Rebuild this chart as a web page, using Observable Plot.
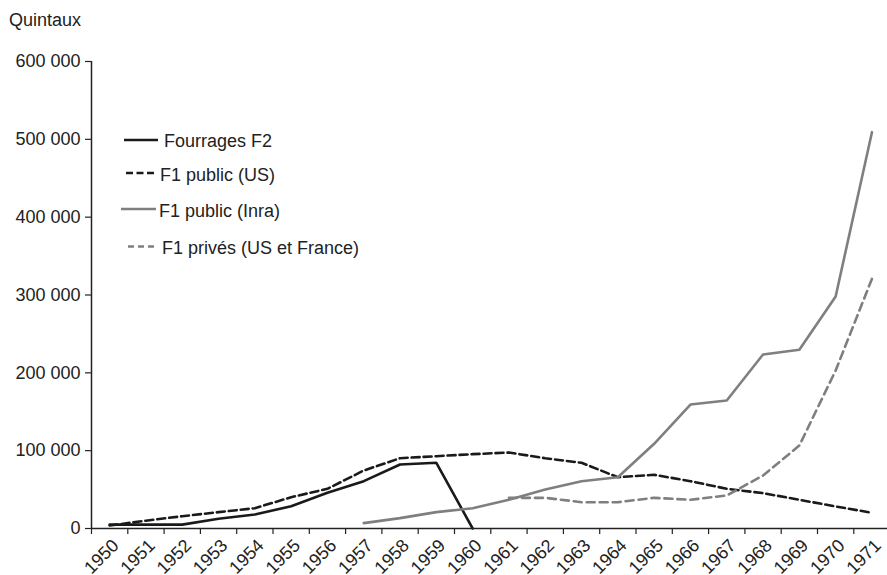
<!DOCTYPE html>
<html>
<head>
<meta charset="utf-8">
<script src="https://cdn.jsdelivr.net/npm/d3@7"></script>
<script src="https://cdn.jsdelivr.net/npm/@observablehq/plot@0.6"></script>
<style>
  body { margin: 0; background: #fff; font-family: "Liberation Sans", Arial, sans-serif; }
  #wrap { position: relative; width: 887px; height: 575px; overflow: hidden; }
  #overlay { position: absolute; left: 0; top: 0; pointer-events: none; }
  #overlay text { font-family: "Liberation Sans", Arial, sans-serif; font-size: 18px; fill: #222; }
</style>
</head>
<body>
<div id="wrap"></div>
<script>
const years = d3.range(1950, 1972);
const yTicks = [0, 100000, 200000, 300000, 400000, 500000, 600000];

const fourragesYears = [1950,1951,1952,1953,1954,1955,1956,1957,1958,1959,1960];
const fourragesValues = [5000,5000,5000,12500,18000,28600,45900,60800,82200,84400,0];

const publicUSYears = years;
const publicUSValues = [3800,10000,15800,21000,26100,40200,51000,74500,90300,92900,95500,97600,90300,84400,65900,69000,60800,51000,45400,36900,28300,20200];

const inraYears = [1957,1958,1959,1960,1961,1962,1963,1964,1965,1966,1967,1968,1969,1970,1971];
const inraValues = [6900,13300,21000,26100,36900,50100,60800,65900,108800,159300,164500,223600,229600,298100,509200];

const privesYears = [1961,1962,1963,1964,1965,1966,1967,1968,1969,1970,1971];
const privesValues = [39400,39400,33800,33800,39400,36900,42400,68100,106600,203000,320800];

const seriesNames = ["Fourrages F2", "F1 public (US)", "F1 public (Inra)", "F1 privés (US et France)"];
const seriesColors = ["#1a1a1a", "#1a1a1a", "#7f7f7f", "#7f7f7f"];
const seriesDash = [null, "8,4", null, "8,5"];

const toRows = (ys, vs) => ys.map((year, i) => ({year, value: vs[i]}));
const data = [
  toRows(fourragesYears, fourragesValues),
  toRows(publicUSYears, publicUSValues),
  toRows(inraYears, inraValues),
  toRows(privesYears, privesValues)
];

const halfYears = d3.range(1949.5, 1971.5, 1);
const fmt = d => d3.format(",")(d).replace(/,/g, " ");

const W = 887, H = 575, mL = 91, mT = 61, mB = 47;
const step = 36.3;

const chart = Plot.plot({
  width: W,
  height: H,
  marginLeft: mL,
  marginRight: 0,
  marginTop: mT,
  marginBottom: mB,
  style: {fontFamily: "Liberation Sans, Arial, sans-serif", fontSize: "18px", color: "#222", background: "#fff"},
  x: {type: "linear", domain: [1949.5, 1949.5 + (W - mL) / step], axis: null},
  y: {domain: [0, 600000], axis: null},
  marks: [
    Plot.axisY({ticks: yTicks, tickFormat: fmt, tickSize: 6, tickPadding: 5, fontSize: 18, label: null, stroke: "#222", strokeWidth: 1.2}),
    Plot.axisX({ticks: halfYears, tickFormat: () => "", tickSize: 6, label: null, stroke: "#222", strokeWidth: 1.2}),
    Plot.text(years, {x: d => d, frameAnchor: "bottom", text: d => String(d), rotate: -45, textAnchor: "end", lineAnchor: "middle", dx: 6, dy: 14, fontSize: 18, fill: "#222"}),
    ...data.map((rows, i) => Plot.line(rows, {x: "year", y: "value", stroke: seriesColors[i], strokeWidth: 2.6, strokeDasharray: seriesDash[i], strokeLinejoin: "miter"})),
    Plot.ruleX([1949.5], {stroke: "#222", strokeWidth: 1.5}),
    Plot.ruleY([0], {stroke: "#222", strokeWidth: 1.5})
  ]
});

const wrap = document.getElementById("wrap");
wrap.appendChild(chart);

// overlay: unit title and legend
const ns = "http://www.w3.org/2000/svg";
const ov = document.createElementNS(ns, "svg");
ov.setAttribute("id", "overlay");
ov.setAttribute("width", W);
ov.setAttribute("height", H);
const addText = (x, y, t) => {
  const el = document.createElementNS(ns, "text");
  el.setAttribute("x", x); el.setAttribute("y", y);
  el.textContent = t; ov.appendChild(el);
};
addText(9, 26, "Quintaux");
const legendRows = [
  {x1: 124, x2: 158, ly: 140, tx: 164, ty: 147},
  {x1: 126, x2: 157, ly: 173, tx: 160, ty: 180.5},
  {x1: 121, x2: 156, ly: 209, tx: 159, ty: 217},
  {x1: 128, x2: 158, ly: 246.5, tx: 162, ty: 254}
];
legendRows.forEach((r, i) => {
  const l = document.createElementNS(ns, "line");
  l.setAttribute("x1", r.x1); l.setAttribute("x2", r.x2);
  l.setAttribute("y1", r.ly); l.setAttribute("y2", r.ly);
  l.setAttribute("stroke", seriesColors[i]);
  l.setAttribute("stroke-width", 2.6);
  if (seriesDash[i]) l.setAttribute("stroke-dasharray", i === 1 ? "7,3.5" : "6,4");
  ov.appendChild(l);
  addText(r.tx, r.ty, seriesNames[i]);
});
wrap.appendChild(ov);
</script>
</body>
</html>
